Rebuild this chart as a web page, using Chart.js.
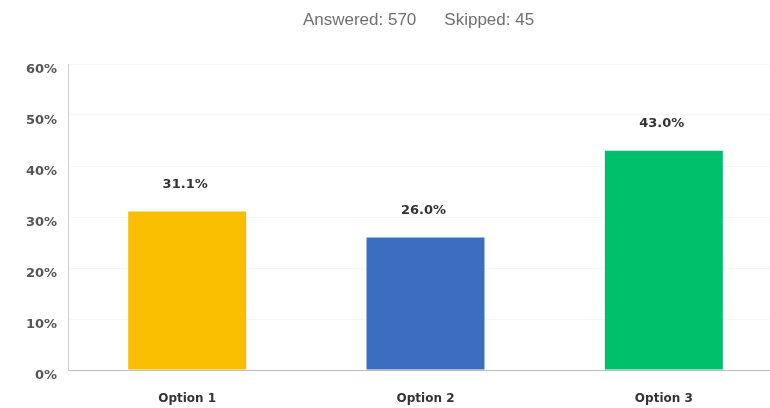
<!DOCTYPE html>
<html>
<head>
<meta charset="utf-8">
<script src="https://cdn.jsdelivr.net/npm/chart.js@4/dist/chart.umd.min.js"></script>
<style>
  html, body { margin: 0; padding: 0; background: #fff; overflow: hidden; }
  #wrap { width: 784px; height: 408px; }
</style>
</head>
<body>
<div id="wrap"><canvas id="c"></canvas></div>
<script>
// Survey summary
const summaryLabels = ['Answered: 570', 'Skipped: 45'];

// Responses per option (percent)
const categories = ['Option 1', 'Option 2', 'Option 3'];
const percentages = [31.1, 26.0, 43.0];
const barColors = ['#F9BE00', '#3A6FC0', '#00C06B'];

// Y axis range and step (percent)
const yTicks = [0, 10, 20, 30, 40, 50, 60];

const labelFont = '"DejaVu Sans", Verdana, sans-serif';

// Writes the answered / skipped counts centred over the plot area
const summaryPlugin = {
  id: 'summary',
  afterDraw(chart) {
    const { ctx, chartArea } = chart;
    const cx = (chartArea.left + chartArea.right) / 2 - 7;
    ctx.save();
    ctx.font = '17px "Liberation Sans", Arial, sans-serif';
    ctx.fillStyle = '#707070';
    ctx.textBaseline = 'middle';
    const gap = 28;
    const w0 = ctx.measureText(summaryLabels[0]).width;
    const w1 = ctx.measureText(summaryLabels[1]).width;
    const x = cx - (w0 + gap + w1) / 2;
    ctx.textAlign = 'left';
    ctx.fillText(summaryLabels[0], x, 20);
    ctx.fillText(summaryLabels[1], x + w0 + gap, 20);
    ctx.restore();
  }
};

// Prints each bar's value above it
const valueLabelPlugin = {
  id: 'valueLabels',
  afterDatasetsDraw(chart) {
    const { ctx } = chart;
    const meta = chart.getDatasetMeta(0);
    ctx.save();
    ctx.font = 'bold 13px ' + labelFont;
    ctx.fillStyle = '#333';
    ctx.textAlign = 'center';
    ctx.textBaseline = 'middle';
    meta.data.forEach((bar, i) => {
      ctx.fillText(percentages[i].toFixed(1) + '%', bar.x - 2, bar.y - 27);
    });
    ctx.restore();
  }
};

new Chart(document.getElementById('c'), {
  type: 'bar',
  data: {
    labels: categories,
    datasets: [{
      data: percentages,
      backgroundColor: barColors,
      borderWidth: 0,
      categoryPercentage: 1.0,
      barPercentage: 0.495
    }]
  },
  options: {
    responsive: true,
    maintainAspectRatio: false,
    animation: false,
    layout: { padding: { top: 64, right: 1, bottom: 0, left: 0 } },
    plugins: {
      legend: { display: false },
      tooltip: { enabled: false }
    },
    scales: {
      x: {
        afterFit(scale) { scale.height = 38; },
        grid: { display: false, drawTicks: false },
        border: { display: true, color: '#bdbdbd', width: 1 },
        ticks: {
          padding: 22,
          color: '#333',
          font: { family: labelFont, size: 12, weight: 'bold' }
        }
      },
      y: {
        min: yTicks[0],
        max: yTicks[yTicks.length - 1],
        afterFit(scale) { scale.width = 68; },
        afterBuildTicks(scale) { scale.ticks = yTicks.map(v => ({ value: v })); },
        grid: { color: 'rgba(0,0,0,0.035)', drawTicks: false },
        border: { display: true, color: '#cfcfcf', width: 1 },
        ticks: {
          padding: 11,
          labelOffset: 6,
          color: '#555',
          font: { family: labelFont, size: 13, weight: 'bold' },
          callback: v => v + '%'
        }
      }
    }
  },
  plugins: [summaryPlugin, valueLabelPlugin]
});
</script>
</body>
</html>
